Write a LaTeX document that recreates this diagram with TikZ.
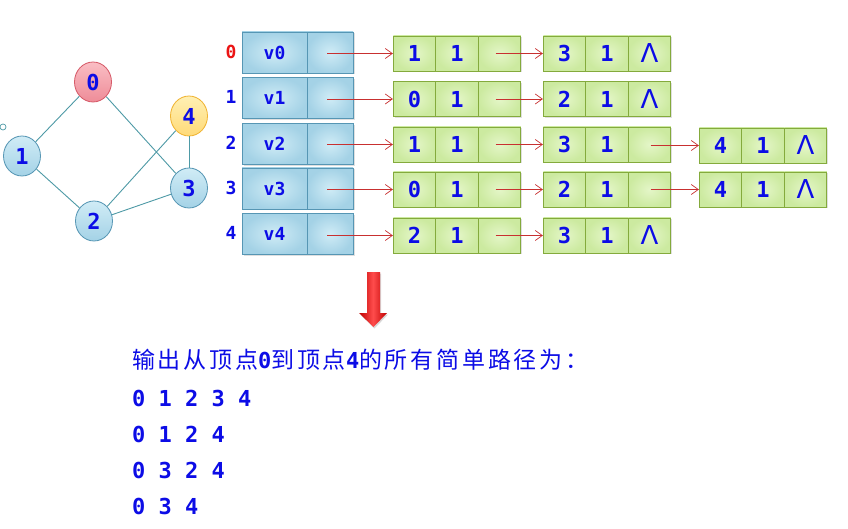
\documentclass[tikz,border=0pt]{standalone}
\usepackage{fontspec}
\setmonofont{DejaVu Sans Mono}
\newfontfamily\cjk[LetterSpace=12]{Noto Sans CJK SC}
\newfontfamily\dvs{DejaVu Sans}
\usetikzlibrary{shadows,arrows.meta,shapes.geometric}
\definecolor{txtblue}{RGB}{12,12,230}
\definecolor{idxred}{RGB}{235,20,20}
\definecolor{edgec}{RGB}{78,154,166}
\definecolor{hborder}{RGB}{86,150,180}
\definecolor{hin}{RGB}{208,236,246}
\definecolor{hout}{RGB}{164,210,230}
\definecolor{lborder}{RGB}{132,170,60}
\definecolor{lin}{RGB}{228,246,200}
\definecolor{lout}{RGB}{204,234,160}
\definecolor{arrred}{RGB}{200,48,48}
\definecolor{rin}{RGB}{250,190,196}
\definecolor{rout}{RGB}{238,140,152}
\definecolor{rborder}{RGB}{214,90,104}
\definecolor{yin}{RGB}{255,240,180}
\definecolor{yout}{RGB}{255,218,120}
\definecolor{yborder}{RGB}{240,180,50}
\tikzset{
  vtx/.style={ellipse, minimum width=37pt, minimum height=40pt, inner sep=0pt,
     font=\ttfamily\bfseries\fontsize{22}{22}\selectfont, text=txtblue, line width=0.8pt},
  vblue/.style={vtx, draw=hborder, top color=hin, bottom color=hout},
  vred/.style={vtx, draw=rborder, top color=rin, bottom color=rout},
  vyel/.style={vtx, draw=yborder, top color=yin, bottom color=yout},
  gedge/.style={draw=edgec, line width=0.9pt},
  hcell/.style={draw=hborder, line width=0.8pt, inner color=hin, outer color=hout,
     minimum height=41pt, inner sep=0pt, text=txtblue,
     font=\ttfamily\bfseries\fontsize{18}{18}\selectfont,
     drop shadow={opacity=0.25, shadow xshift=1.5pt, shadow yshift=-1.5pt}},
  lcell/.style={draw=lborder, line width=0.8pt, inner color=lin, outer color=lout,
     minimum height=35pt, minimum width=42.5pt, inner sep=0pt, text=txtblue,
     font=\ttfamily\bfseries\fontsize{22}{22}\selectfont,
     drop shadow={opacity=0.25, shadow xshift=1.5pt, shadow yshift=-1.5pt}},
  idx/.style={font=\ttfamily\bfseries\fontsize{18}{18}\selectfont, text=txtblue, inner sep=0pt},
  ptr/.style={draw=arrred, line width=0.7pt, -{Straight Barb[length=7pt,width=10pt]}},
  outtxt/.style={anchor=west, inner sep=0pt, text=txtblue,
     font=\ttfamily\bfseries\fontsize{22}{22}\selectfont}
}
\newcommand\nil{{\dvs\mdseries\fontsize{26}{26}\selectfont Λ}}
\newcommand\mklist[6]{%
  \node[lcell] (#1a) at (#2+21.5,#3) {#4};
  \node[lcell] (#1b) at (#2+64,#3) {#5};
  \node[lcell] (#1c) at (#2+106.5,#3) {#6};}
\newcommand\mkhead[4]{%
  \node[hcell, minimum width=65pt] (#1a) at (274.5,#2) {#3};
  \node[hcell, minimum width=46pt] (#1b) at (330,#2) {};
  \node[idx] (#1i) at (231,#2-1) {#4};}
\begin{document}
\begin{tikzpicture}[x=1pt,y=-1pt]
\useasboundingbox (0,0) rectangle (848,529);
\fill[white] (0,0) rectangle (848,529);
% graph
\node[vred] (g0) at (93,82) {0};
\node[vyel] (g4) at (189,116) {4};
\node[vblue] (g1) at (22,156) {1};
\node[vblue] (g3) at (189,188) {3};
\node[vblue] (g2) at (94,221) {2};
\draw[gedge] (g0) -- (g1);
\draw[gedge] (g0) -- (g3);
\draw[gedge] (g1) -- (g2);
\draw[gedge] (g2) -- (g4);
\draw[gedge] (g2) -- (g3);
\draw[gedge] (g3) -- (g4);
\node[draw=edgec, circle, minimum size=6pt, inner sep=0pt, line width=0.7pt] (dot) at (3,127) {};
% heads
\mkhead{h0}{52.5}{v0}{\textcolor{idxred}{0}}
\mkhead{h1}{98}{v1}{1}
\mkhead{h2}{144}{v2}{2}
\mkhead{h3}{188.5}{v3}{3}
\mkhead{h4}{234}{v4}{4}
% lists
\mklist{L01}{393}{53.5}{1}{1}{}
\mklist{L02}{543}{53.5}{3}{1}{\nil}
\mklist{L11}{393}{99}{0}{1}{}
\mklist{L12}{543}{99}{2}{1}{\nil}
\mklist{L21}{393}{144.5}{1}{1}{}
\mklist{L22}{543}{144.5}{3}{1}{}
\mklist{L23}{699}{145.5}{4}{1}{\nil}
\mklist{L31}{393}{189.5}{0}{1}{}
\mklist{L32}{543}{189.5}{2}{1}{}
\mklist{L33}{699}{189.5}{4}{1}{\nil}
\mklist{L41}{393}{235.5}{2}{1}{}
\mklist{L42}{543}{235.5}{3}{1}{\nil}
% pointers
\foreach \r in {0,...,4}{
  \draw[ptr] ([xshift=-3pt]h\r b.center |- L\r1a.west) -- (L\r1a.west);
  \draw[ptr] ([xshift=-4pt]L\r1c.center) -- (L\r2a.west);
}
\draw[ptr] ([xshift=1pt]L22c.center |- L23a.west) -- (L23a.west);
\draw[ptr] ([xshift=1pt]L32c.center) -- (L33a.west);
% big arrow
\path[drop shadow={opacity=0.3, shadow xshift=1pt, shadow yshift=-1.5pt},
  left color=red!75!black, right color=red!75!black, middle color=red!70!white]
  (367,272) -- (380,272) -- (380,313) -- (387,313) -- (373.5,327) -- (359,313) -- (367,313) -- cycle;
% output text
\node[outtxt] (t0) at (132,360) {{\cjk\mdseries\fontsize{23}{23}\selectfont 输出从顶点}0{\cjk\mdseries\fontsize{23}{23}\selectfont 到顶点}4{\cjk\mdseries\fontsize{23}{23}\selectfont 的所有简单路径为：}};
\node[outtxt] (t1) at (132,398) {0 1 2 3 4};
\node[outtxt] (t2) at (132,434) {0 1 2 4};
\node[outtxt] (t3) at (132,470) {0 3 2 4};
\node[outtxt] (t4) at (132,506) {0 3 4};
\end{tikzpicture}
\end{document}
